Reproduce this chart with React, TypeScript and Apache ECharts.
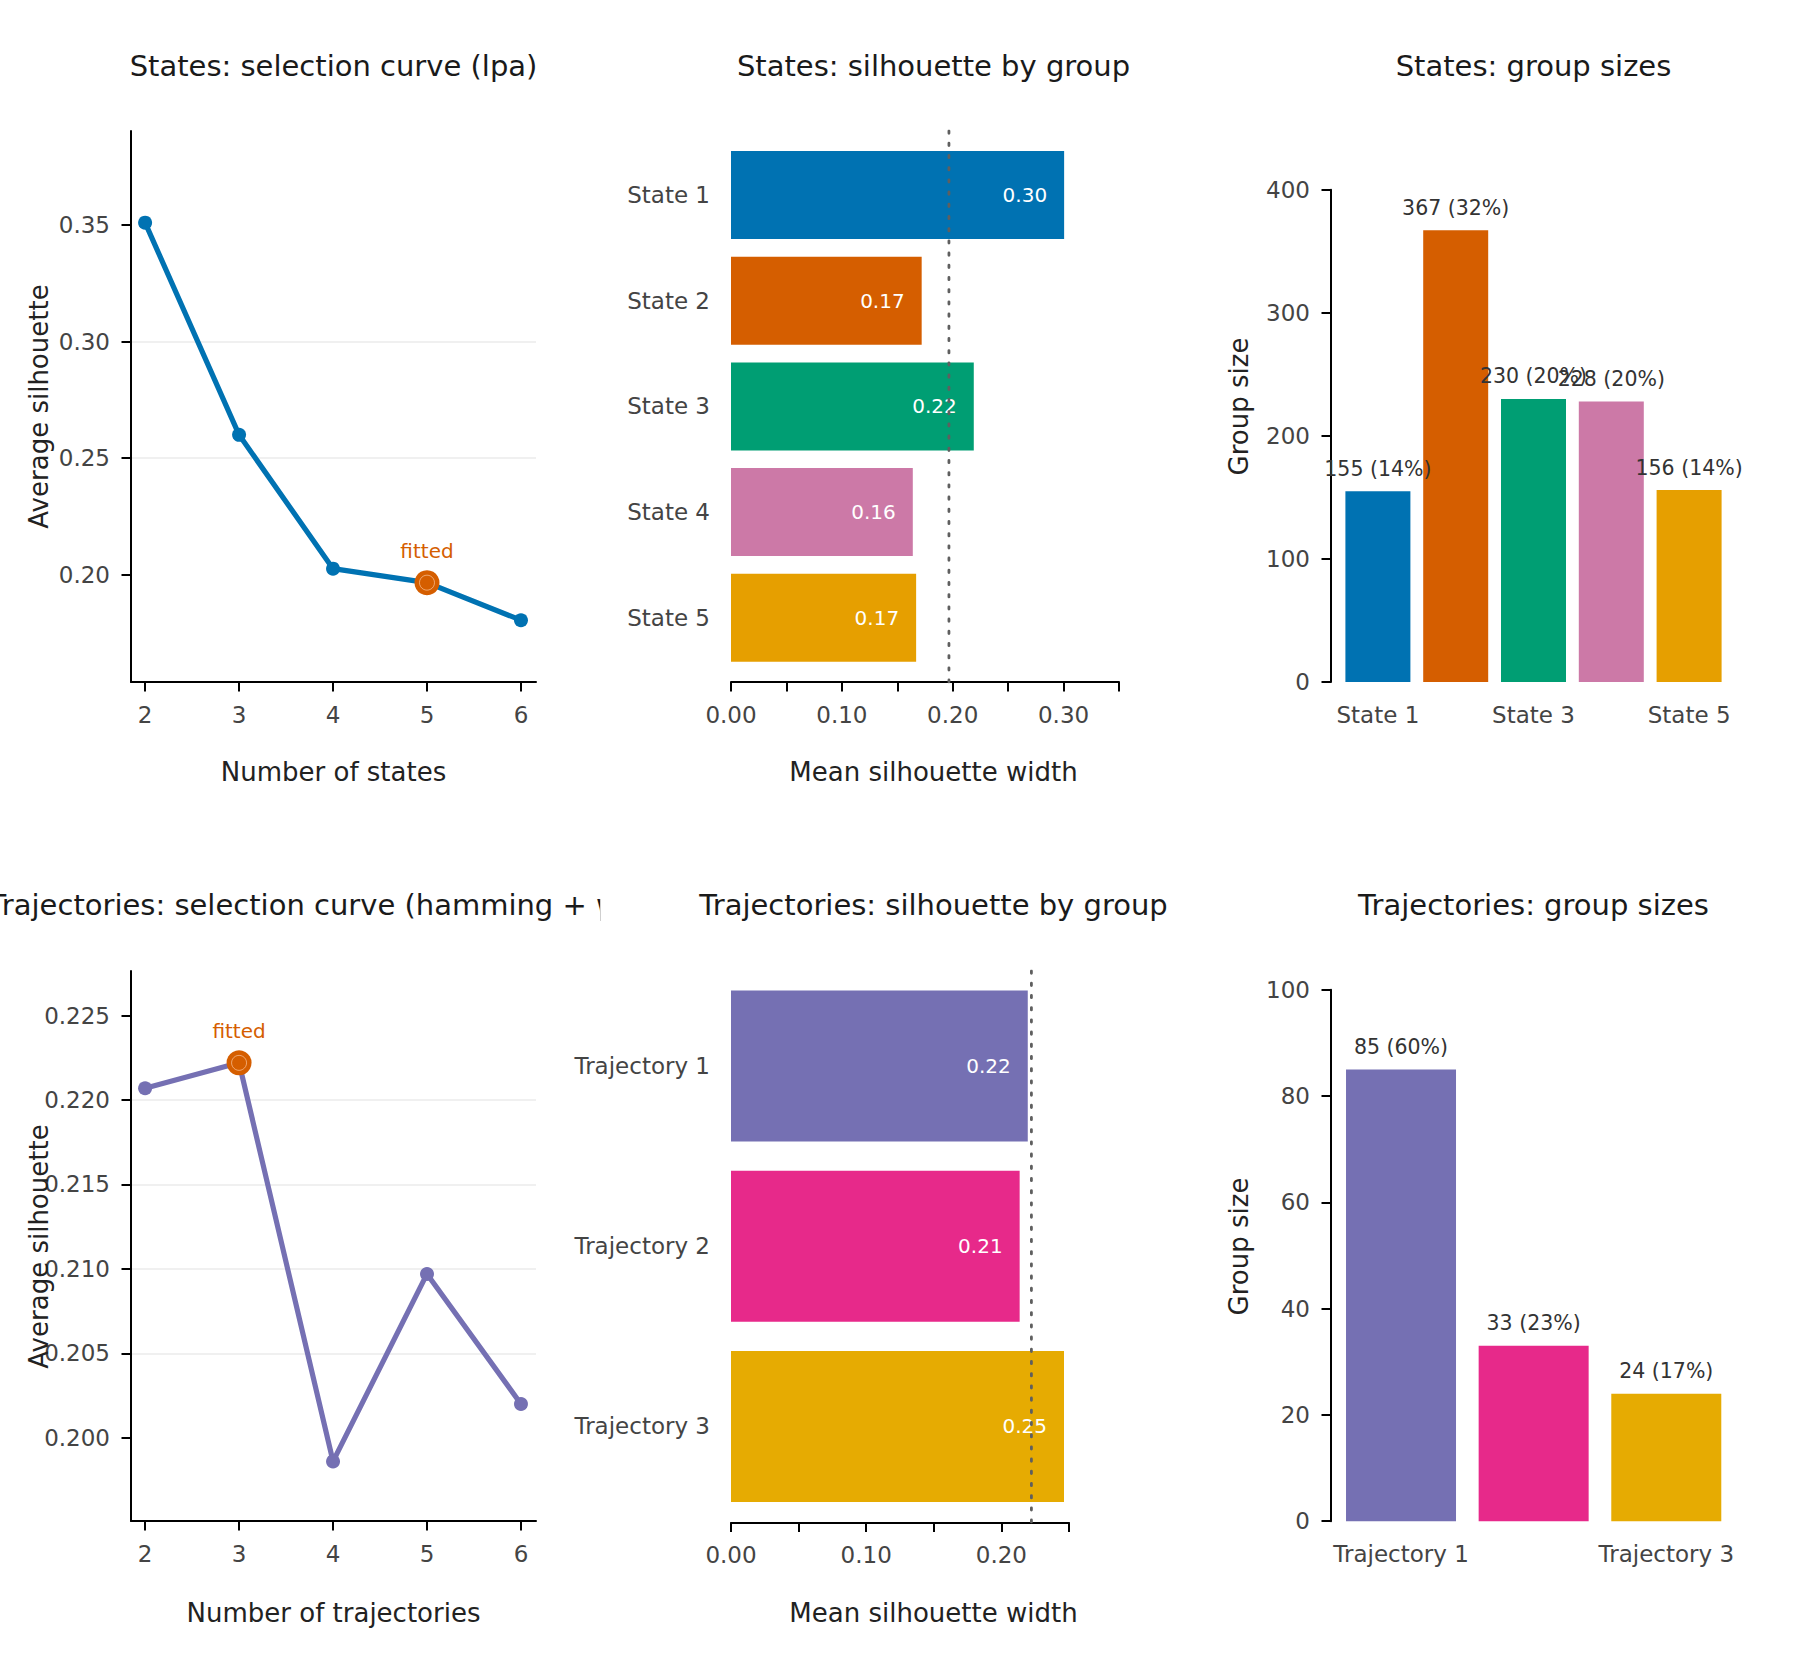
import React, { useEffect, useRef } from "react";
import * as echarts from "echarts";

// ---- data ----
const ks = [2, 3, 4, 5, 6];
const stateSilCurve = [0.351, 0.26, 0.2026, 0.1966, 0.1805];
const trajSilCurve = [0.2207, 0.2222, 0.1986, 0.2097, 0.202];
const stateFittedK = 5;
const trajFittedK = 3;

const stateNames = ["State 1", "State 2", "State 3", "State 4", "State 5"];
const stateSil = [0.3005, 0.172, 0.219, 0.164, 0.167];
const stateSizes = [155, 367, 230, 228, 156];
const stateColors = ["#0072B2", "#D55E00", "#009E73", "#CC79A7", "#E69F00"];

const trajNames = ["Trajectory 1", "Trajectory 2", "Trajectory 3"];
const trajSil = [0.2195, 0.2135, 0.2463];
const trajSizes = [85, 33, 24];
const trajColors = ["#7570B3", "#E7298A", "#E6AB02"];

const stateYTicks = [0.2, 0.25, 0.3, 0.35];
const trajYTicks = [0.2, 0.205, 0.21, 0.215, 0.22, 0.225];
const stateSilTicks = [0, 0.1, 0.2, 0.3];
const trajSilTicks = [0, 0.1, 0.2];

const FONT = "DejaVu Sans";
const TICK = 23;
const W = 1800;
const H = 1680;

const axisLine = { show: true, lineStyle: { color: "#000", width: 2 } };
const axisTick = { show: true, length: 9.5, lineStyle: { color: "#000", width: 2 } };
const label = (extra: any = {}) => ({
  color: "#444",
  fontSize: TICK,
  fontFamily: FONT,
  ...extra,
});

const text = (t: string, x: number, y: number, size: number, fill: string, rot = 0, z = 10) => ({
  type: "text",
  x,
  y,
  rotation: rot,
  z,
  style: {
    text: t,
    fill,
    fontSize: size,
    fontFamily: FONT,
    font: `${size}px "${FONT}"`,
    align: "center",
    verticalAlign: "middle",
    textAlign: "center",
    textVerticalAlign: "middle",
  },
});

const sizeLabel = (total: number) => ({
  show: true,
  position: "top",
  distance: 12,
  color: "#333",
  fontSize: 20.5,
  fontFamily: FONT,
  formatter: (p: any) => `${p.value} (${Math.round((p.value / total) * 100)}%)`,
});

const silLabel = {
  show: true,
  position: "insideRight",
  distance: 17,
  color: "#fff",
  fontSize: 20,
  fontFamily: FONT,
  formatter: (p: any) => Number(p.value).toFixed(2),
};

const dotted = { color: "#5f5f5f", width: 2.8, type: [2.3, 9.9], cap: "round" };

const App: React.FC = () => {
  const ref = useRef<HTMLDivElement>(null);

  useEffect(() => {
    document.body.style.margin = "0";
    if (!ref.current) return;
    const chart = echarts.init(ref.current, null, { renderer: "svg" });

    const stateTotal = stateSizes.reduce((a, b) => a + b, 0);
    const trajTotal = trajSizes.reduce((a, b) => a + b, 0);
    const fitS = ks.indexOf(stateFittedK);
    const fitT = ks.indexOf(trajFittedK);

    const curveX = (g: number) => ({
      gridIndex: g,
      type: "value",
      min: 1.85,
      max: 6.16,
      axisLine,
      axisTick: { ...axisTick, customValues: ks },
      axisLabel: label({ customValues: ks, margin: 21 }),
      splitLine: { show: false },
    });
    const curveY = (g: number, min: number, max: number, ticks: number[], dec: number) => ({
      gridIndex: g,
      type: "value",
      min,
      max,
      axisLine,
      axisTick: { ...axisTick, customValues: ticks },
      axisLabel: label({ customValues: ticks, margin: 21, formatter: (v: number) => v.toFixed(dec) }),
      splitLine: { show: true, showMinLine: false, showMaxLine: false, lineStyle: { color: "#ebebeb", width: 1.5 } },
    });
    const silX = (g: number, max: number, ticks: number[], offset: number) => ({
      gridIndex: g,
      type: "value",
      min: 0,
      max,
      interval: 0.05,
      offset,
      axisLine,
      axisTick,
      axisLabel: label({ customValues: ticks, margin: 21, formatter: (v: number) => v.toFixed(2) }),
      splitLine: { show: false },
    });
    const silY = (g: number, names: string[]) => ({
      gridIndex: g,
      type: "category",
      data: names,
      inverse: true,
      axisLine: { show: false },
      axisTick: { show: false },
      axisLabel: label({ margin: 21 }),
    });
    const hidden = (g: number, max: number) => ({ gridIndex: g, type: "value", min: 0, max, show: false });
    const sizeX = (g: number, names: string[]) => ({
      gridIndex: g,
      type: "category",
      data: names,
      axisLine: { show: false },
      axisTick: { show: false },
      axisLabel: label({ interval: 1, margin: 21 }),
    });
    const sizeY = (g: number, max: number, interval: number, offset: number) => ({
      gridIndex: g,
      type: "value",
      min: 0,
      max,
      interval,
      offset,
      axisLine,
      axisTick,
      axisLabel: label({ margin: 21 }),
      splitLine: { show: false },
    });

    const curve = (g: number, vals: number[], color: string, fit: number) => [
      {
        type: "line",
        xAxisIndex: g,
        yAxisIndex: g,
        data: ks.map((k, i) => [k, vals[i]]),
        symbol: "circle",
        symbolSize: 14,
        lineStyle: { color, width: 5.2 },
        itemStyle: { color, opacity: 1 },
        z: 3,
      },
      {
        type: "scatter",
        xAxisIndex: g,
        yAxisIndex: g,
        data: [[ks[fit], vals[fit]]],
        symbolSize: 25,
        itemStyle: { color: "#D55E00", opacity: 1 },
        label: {
          show: true,
          position: "top",
          distance: 9,
          formatter: "fitted",
          color: "#D55E00",
          fontSize: 20,
          fontFamily: FONT,
        },
        z: 4,
      },
      {
        type: "scatter",
        xAxisIndex: g,
        yAxisIndex: g,
        data: [[ks[fit], vals[fit]]],
        symbolSize: 15,
        silent: true,
        itemStyle: { color: "rgba(0,0,0,0)", borderColor: "rgba(255,215,185,0.6)", borderWidth: 1, opacity: 1 },
        z: 5,
      },
    ];

    const silBars = (g: number, vals: number[], colors: string[], bw: number) => ({
      type: "bar",
      xAxisIndex: g,
      yAxisIndex: g,
      barWidth: bw,
      data: vals.map((v, i) => ({ value: v, itemStyle: { color: colors[i] } })),
      label: silLabel,
      z: 2,
    });
    const refLine = (g: number, x: number) => ({
      type: "line",
      xAxisIndex: g,
      yAxisIndex: g,
      data: [
        [x, 1],
        [x, 0],
      ],
      symbol: "none",
      lineStyle: dotted,
      silent: true,
      z: 6,
    });
    const sizeBars = (g: number, vals: number[], colors: string[], bw: number, total: number) => ({
      type: "bar",
      xAxisIndex: g,
      yAxisIndex: g,
      barWidth: bw,
      data: vals.map((v, i) => ({ value: v, itemStyle: { color: colors[i] } })),
      label: sizeLabel(total),
    });

    chart.setOption({
      animation: false,
      backgroundColor: "#fff",
      textStyle: { fontFamily: FONT },
      grid: [
        { left: 131, right: W - 536, top: 131, bottom: H - 682 },
        { left: 731, right: W - 1119, top: 142.2, bottom: H - 670.6 },
        { left: 731, right: W - 1119, top: 131, bottom: H - 682 },
        { left: 1339, right: W - 1728, top: 189.7, bottom: H - 682 },
        { left: 131, right: W - 536, top: 971, bottom: H - 1521 },
        { left: 731, right: W - 1069, top: 976, bottom: H - 1516.5 },
        { left: 731, right: W - 1069, top: 971, bottom: H - 1522 },
        { left: 1334.7, right: W - 1732.6, top: 989.7, bottom: H - 1521.2 },
      ],
      xAxis: [
        curveX(0),
        silX(1, 0.35, stateSilTicks, 11.4),
        hidden(2, 0.35),
        sizeX(3, stateNames),
        curveX(4),
        silX(5, 0.25, trajSilTicks, 6),
        hidden(6, 0.25),
        sizeX(7, trajNames),
      ],
      yAxis: [
        curveY(0, 0.154, 0.3903, stateYTicks, 2),
        silY(1, stateNames),
        hidden(2, 1),
        sizeY(3, 400, 100, 8),
        curveY(4, 0.19507, 0.22764, trajYTicks, 3),
        silY(5, trajNames),
        hidden(6, 1),
        sizeY(7, 100, 20, 3.7),
      ],
      series: [
        ...curve(0, stateSilCurve, "#0072B2", fitS),
        silBars(1, stateSil, stateColors, 88),
        refLine(2, stateSilCurve[fitS]),
        sizeBars(3, stateSizes, stateColors, 65, stateTotal),
        ...curve(4, trajSilCurve, "#7570B3", fitT),
        silBars(5, trajSil, trajColors, 151),
        refLine(6, trajSilCurve[fitT]),
        sizeBars(7, trajSizes, trajColors, 110, trajTotal),
      ],
      graphic: [
        text("States: selection curve (lpa)", 333.5, 66, 29, "#1a1a1a"),
        text("States: silhouette by group", 933.5, 66, 29, "#1a1a1a"),
        text("States: group sizes", 1533.5, 66, 29, "#1a1a1a"),
        text("Trajectories: selection curve (hamming + ward)", 333.5, 905, 29, "#1a1a1a", 0, 10),
        {
          type: "rect",
          z: 20,
          shape: { x: 601, y: 868, width: 94, height: 72 },
          style: { fill: "#fff" },
        },
        {
          type: "line",
          z: 21,
          shape: { x1: 600.5, y1: 899, x2: 600.5, y2: 921 },
          style: { stroke: "#cfcfcf", lineWidth: 1 },
        },
        text("Trajectories: silhouette by group", 933.5, 905, 29, "#1a1a1a", 0, 30),
        text("Trajectories: group sizes", 1533.5, 905, 29, "#1a1a1a"),

        text("Number of states", 333.5, 772, 26, "#222"),
        text("Mean silhouette width", 933.5, 772, 26, "#222"),
        text("Number of trajectories", 333.5, 1612.5, 26, "#222"),
        text("Mean silhouette width", 933.5, 1612.5, 26, "#222"),

        text("Average silhouette", 38.5, 406.5, 26, "#222", Math.PI / 2),
        text("Group size", 1238.5, 406.5, 26, "#222", Math.PI / 2),
        text("Average silhouette", 38.5, 1246.5, 26, "#222", Math.PI / 2),
        text("Group size", 1238.5, 1246.5, 26, "#222", Math.PI / 2),
      ],
    });

    return () => chart.dispose();
  }, []);

  return <div ref={ref} style={{ width: W + "px", height: H + "px" }} />;
};

export default App;
